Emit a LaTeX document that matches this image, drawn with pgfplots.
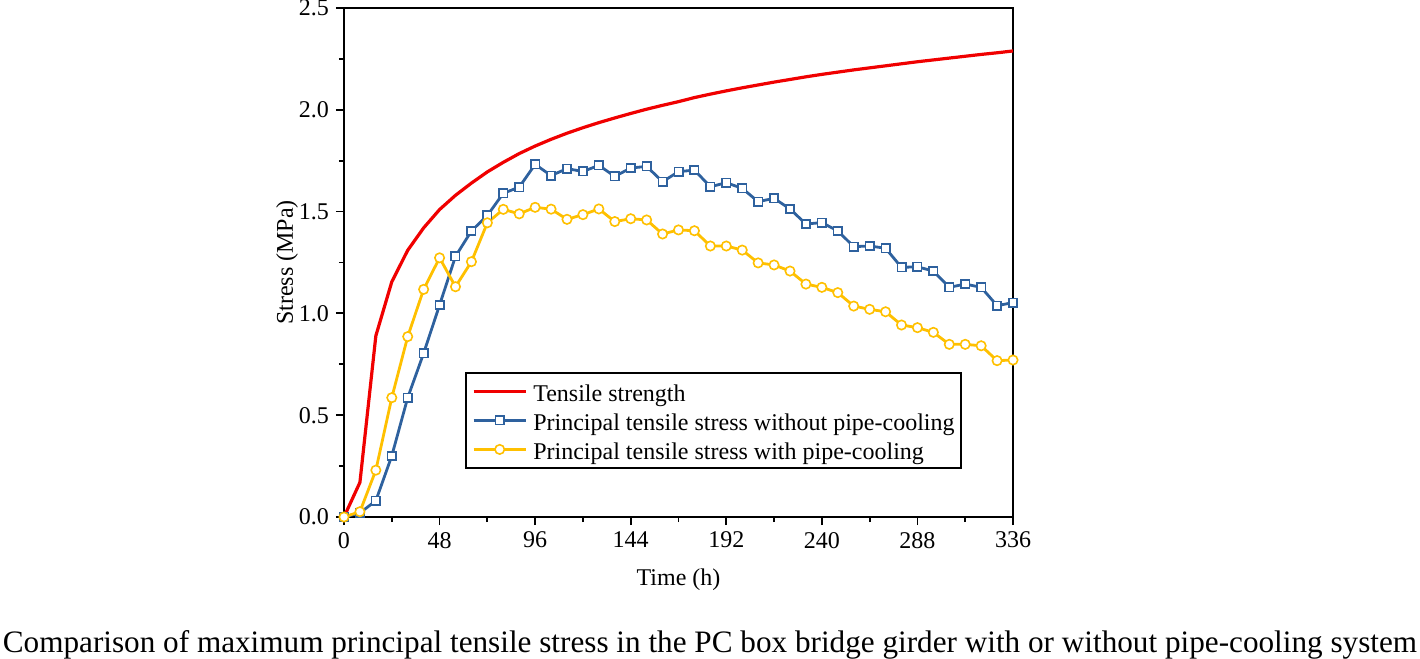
\documentclass[border=0pt]{standalone}
\usepackage{fontspec}
\setmainfont{Liberation Serif}
\usepackage{pgfplots}
\usepackage{pgfplotstable}
\pgfplotsset{compat=1.18}
\definecolor{myred}{RGB}{240,0,0}
\definecolor{myblue}{RGB}{46,97,158}
\definecolor{myyellow}{RGB}{255,192,0}
\pgfplotstableread{
t red blue yellow
0 0 0 0
8 0.17 0.02 0.026
16 0.89 0.08 0.23
24 1.155 0.30 0.586
32 1.31 0.586 0.886
40 1.42 0.804 1.118
48 1.51 1.041 1.273
56 1.58 1.28 1.131
64 1.64 1.405 1.254
72 1.695 1.481 1.445
80 1.742 1.59 1.511
88 1.785 1.62 1.489
96 1.822 1.732 1.521
104 1.855 1.677 1.512
112 1.885 1.711 1.462
120 1.912 1.697 1.485
128 1.937 1.727 1.513
136 1.96 1.673 1.451
144 1.982 1.714 1.465
152 2.003 1.722 1.459
160 2.022 1.647 1.39
168 2.04 1.696 1.41
176 2.06 1.704 1.406
184 2.077 1.622 1.331
192 2.093 1.642 1.331
200 2.108 1.614 1.311
208 2.122 1.549 1.248
216 2.136 1.565 1.238
224 2.149 1.513 1.208
232 2.162 1.439 1.144
240 2.174 1.446 1.128
248 2.185 1.405 1.102
256 2.196 1.328 1.036
264 2.206 1.331 1.02
272 2.216 1.32 1.008
280 2.226 1.226 0.943
288 2.236 1.229 0.93
296 2.245 1.208 0.907
304 2.254 1.128 0.848
312 2.263 1.144 0.848
320 2.272 1.128 0.841
328 2.28 1.038 0.768
336 2.289 1.053 0.771
}\datatable
\begin{document}
\begin{tikzpicture}
\useasboundingbox (-172pt,-71pt) rectangle (538pt,258.5pt);
\begin{axis}[
  scale only axis, width=334.5pt, height=254.5pt,
  xmin=0, xmax=336, ymin=0, ymax=2.5,
  xtick={0,48,...,336}, minor x tick num=1,
  ytick={0,0.5,1,1.5,2,2.5}, minor y tick num=1,
  tick align=outside, xtick pos=bottom, ytick pos=left,
  major tick length=4pt, minor tick length=2.5pt,
  every tick/.style={black, line width=0.9pt},
  axis line style={line width=1.2pt},
  tick label style={font=\fontsize{12}{14}\selectfont},
  label style={font=\fontsize{12}{14}\selectfont},
  /pgf/number format/assume math mode=true,
  yticklabel style={/pgf/number format/.cd, fixed, fixed zerofill, precision=1},
  xlabel={Time (h)}, ylabel={Stress (MPa)},
  xlabel style={at={(axis description cs:0.5,0)}, anchor=center, yshift=-31.5pt},
  ylabel style={at={(axis description cs:-0.0852,0.5)}, anchor=center},
  legend cell align=left,
  legend style={at={(rel axis cs:0.181,0.285)}, anchor=north west, draw=black, line width=1pt,
    font=\fontsize{12}{14}\selectfont, row sep=2.5pt, inner xsep=3pt, inner ysep=3.25pt,
    nodes={inner sep=0pt, text height=11pt, text depth=1pt},
    /tikz/every odd column/.append style={column sep=3pt}},
  legend image code/.code={\draw[mark repeat=2,mark phase=2] plot coordinates {(0pt,0pt) (13pt,0pt) (26pt,0pt)};},
]
\addplot[myred, line width=1.6pt] table[x=t, y=red] {\datatable};
\addlegendentry{Tensile strength}
\addplot[myblue, line width=1.4pt, mark=square*, mark size=2.1pt, mark options={fill=white, line width=0.8pt}] table[x=t, y=blue] {\datatable};
\addlegendentry{Principal tensile stress without pipe-cooling}
\addplot[myyellow, line width=1.4pt, mark=*, mark size=2.35pt, mark options={fill=white, line width=0.8pt}] table[x=t, y=yellow] {\datatable};
\addlegendentry{Principal tensile stress with pipe-cooling}
\end{axis}
\node[font=\fontsize{15.6}{18}\selectfont, anchor=base] at (183pt,-67.5pt) {Comparison of maximum principal tensile stress in the PC box bridge girder with or without pipe-cooling system};
\end{tikzpicture}
\end{document}
